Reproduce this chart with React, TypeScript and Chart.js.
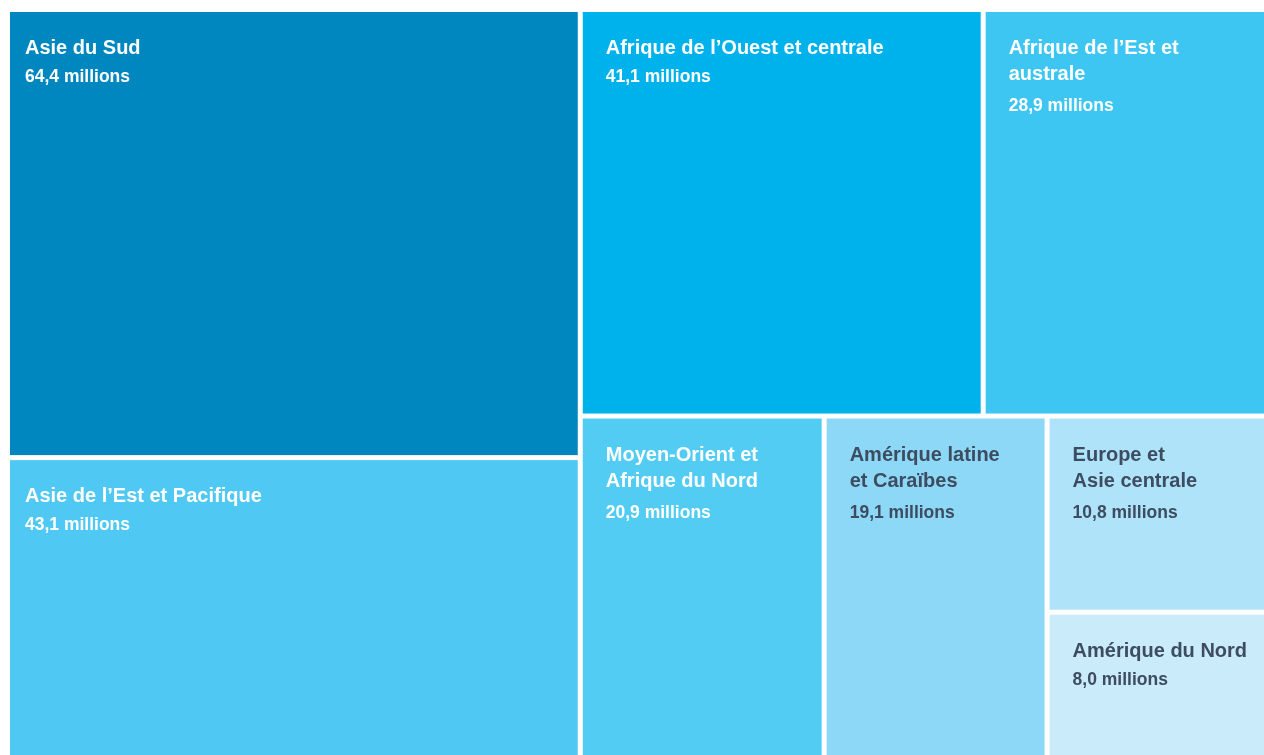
import React, { useEffect, useRef } from "react";
import { Chart, registerables } from "chart.js";

Chart.register(...registerables);

// ---- Data ----
const regions: string[] = [
  "Asie du Sud",
  "Asie de l’Est et Pacifique",
  "Afrique de l’Ouest et centrale",
  "Afrique de l’Est et\naustrale",
  "Moyen-Orient et\nAfrique du Nord",
  "Amérique latine\net Caraïbes",
  "Europe et\nAsie centrale",
  "Amérique du Nord",
];
const valuesMillions: number[] = [64.4, 43.1, 41.1, 28.9, 20.9, 19.1, 10.8, 8.0];
const unitLabel = "millions";

// ---- Styles ----
const fillColors: string[] = [
  "#0087bf",
  "#4fc9f3",
  "#00b2ec",
  "#3ec6f3",
  "#53ccf4",
  "#8dd8f6",
  "#afe3f9",
  "#c9ebfa",
];
const textColors: string[] = [
  "#ffffff",
  "#ffffff",
  "#ffffff",
  "#ffffff",
  "#ffffff",
  "#3d4c60",
  "#3d4c60",
  "#3d4c60",
];

// Nesting of the treemap (slice-and-dice): "row" splits along x, "col" along y
type Node = number | [string, ...Node[]];
const tree: Node = ["row", ["col", 0, 1], ["col", ["row", 2, 3], ["row", 4, 5, ["col", 6, 7]]]];

function sumNode(n: Node): number {
  if (typeof n === "number") return valuesMillions[n];
  return (n.slice(1) as Node[]).reduce((a, c) => a + sumNode(c), 0);
}

type Cell = { i: number; x0: number; x1: number; y0: number; y1: number };

function layout(n: Node, x0: number, x1: number, y0: number, y1: number, out: Cell[]) {
  if (typeof n === "number") {
    out.push({ i: n, x0, x1, y0, y1 });
    return;
  }
  const dir = n[0];
  const kids = n.slice(1) as Node[];
  const total = sumNode(n);
  let acc = 0;
  kids.forEach((k) => {
    const v = sumNode(k);
    const a = acc / total;
    const b = (acc + v) / total;
    if (dir === "row") layout(k, x0 + (x1 - x0) * a, x0 + (x1 - x0) * b, y0, y1, out);
    else layout(k, x0, x1, y0 + (y1 - y0) * a, y0 + (y1 - y0) * b, out);
    acc += v;
  });
}

const GAP = 5;
const FONT = "'Liberation Sans', Arial, Helvetica, sans-serif";

const treemapPlugin = {
  id: "treemapPlugin",
  afterDatasetsDraw(chart: any) {
    const ctx = chart.ctx as CanvasRenderingContext2D;
    const xs = chart.scales.x;
    const ys = chart.scales.y;
    const cells: Cell[] = [];
    layout(tree, 0, 1, 0, 1, cells);
    const leftEdge = xs.getPixelForValue(0);
    ctx.save();
    cells.forEach((c) => {
      const px0 = xs.getPixelForValue(c.x0) + GAP;
      const px1 = xs.getPixelForValue(c.x1);
      const py0 = ys.getPixelForValue(c.y0) + GAP;
      const py1 = ys.getPixelForValue(c.y1);
      ctx.fillStyle = fillColors[c.i];
      ctx.fillRect(px0, py0, px1 - px0, py1 - py0);

      const padX = Math.abs(xs.getPixelForValue(c.x0) - leftEdge) < 1 ? 15 : 23;
      const tx = px0 + padX;
      const ty = py0 + 42;
      ctx.fillStyle = textColors[c.i];
      ctx.textAlign = "left";
      ctx.textBaseline = "alphabetic";
      ctx.font = `bold 20px ${FONT}`;
      const lines = regions[c.i].split("\n");
      lines.forEach((ln, k) => {
        ctx.fillText(ln, tx, ty + k * 26);
      });
      const lastBase = ty + (lines.length - 1) * 26;
      ctx.font = `bold 17.5px ${FONT}`;
      const valText = valuesMillions[c.i].toFixed(1).replace(".", ",") + " " + unitLabel;
      ctx.fillText(valText, tx, lastBase + (lines.length > 1 ? 31 : 28));
    });
    ctx.restore();
  },
};

export default function App() {
  const canvasRef = useRef<HTMLCanvasElement | null>(null);

  useEffect(() => {
    document.body.style.margin = "0";
    const canvas = canvasRef.current;
    if (!canvas) return;
    const chart = new Chart(canvas, {
      type: "scatter",
      data: { datasets: [{ data: [] }] },
      options: {
        animation: false,
        responsive: true,
        maintainAspectRatio: false,
        layout: { padding: { left: 5, top: 7, right: 0, bottom: 0 } },
        plugins: { legend: { display: false }, tooltip: { enabled: false } },
        scales: {
          x: { type: "linear", min: 0, max: 1, display: false },
          y: { type: "linear", min: 0, max: 1, reverse: true, display: false },
        },
      },
      plugins: [treemapPlugin],
    });
    return () => chart.destroy();
  }, []);

  return (
    <div style={{ width: "1264px", height: "755px", position: "relative", background: "#ffffff" }}>
      <canvas ref={canvasRef} />
    </div>
  );
}
